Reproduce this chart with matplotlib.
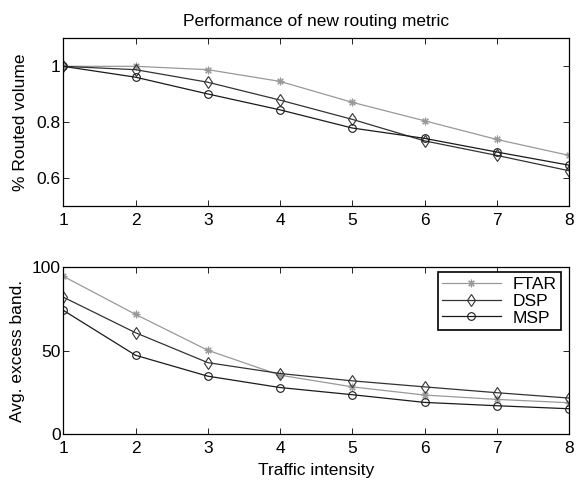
import numpy as np
import matplotlib
matplotlib.use('Agg')
from matplotlib import pyplot as plt

plt.rcParams['font.family'] = ['Liberation Sans', 'DejaVu Sans']
plt.rcParams['font.size'] = 12.5

# traffic intensity
x = [1, 2, 3, 4, 5, 6, 7, 8]

# % routed volume
ftar_vol = [1.0, 1.0, 0.988, 0.946, 0.871, 0.805, 0.738, 0.681]
dsp_vol = [1.0, 0.988, 0.943, 0.879, 0.810, 0.733, 0.681, 0.626]
msp_vol = [1.0, 0.961, 0.901, 0.844, 0.779, 0.742, 0.693, 0.646]

# avg. excess bandwidth
ftar_bw = [94.6, 71.8, 50.3, 35.4, 28.4, 23.5, 20.9, 18.9]
dsp_bw = [82.1, 60.8, 42.9, 36.4, 32.0, 28.4, 24.9, 21.7]
msp_bw = [74.2, 47.3, 34.8, 28.0, 23.7, 19.1, 17.1, 15.3]

names = ['FTAR', 'DSP', 'MSP']
markers = [(8, 2, 0), 'd', 'o']
sizes = [5.5, 6, 5.5]
colors = ['#999999', '#333333', '#1a1a1a']

fig = plt.figure(figsize=(5.82, 4.8), dpi=100)
ax1 = fig.add_axes([0.1088, 0.571, 0.8689, 0.349])
ax2 = fig.add_axes([0.1088, 0.0952, 0.8689, 0.348])

for ax, series in [(ax1, [ftar_vol, dsp_vol, msp_vol]), (ax2, [ftar_bw, dsp_bw, msp_bw])]:
    for ys, n, m, ms, c in zip(series, names, markers, sizes, colors):
        ax.plot(x, ys, color=c, marker=m, markersize=ms,
                markerfacecolor='none', markeredgecolor=c, markeredgewidth=0.8,
                linewidth=0.9, label=n)
    ax.set_xlim(1, 8)
    ax.set_xticks(x)
    ax.tick_params(direction='in', top=True, right=True, length=4, width=0.6)
    ax.tick_params(axis='x', pad=5)
    ax.tick_params(axis='y', pad=2)
    for s in ax.spines.values():
        s.set_linewidth(0.9)

ax1.set_ylim(0.5, 1.1)
ax1.set_yticks([0.6, 0.8, 1.0])
ax1.set_yticklabels(['0.6', '0.8', '1'])
ax1.set_ylabel('% Routed volume', labelpad=6)
ax1.set_title('Performance of new routing metric', fontsize=12.5, pad=9)

ax2.set_ylim(0, 100)
ax2.set_yticks([0, 50, 100])
ax2.set_ylabel('Avg. excess band.', labelpad=5)
ax2.set_xlabel('Traffic intensity', labelpad=5)
leg = ax2.legend(loc='upper right', bbox_to_anchor=(0.985, 0.97), fancybox=False,
                 framealpha=1, edgecolor='black', borderpad=0.25, labelspacing=0.1,
                 handlelength=3.4, handletextpad=0.7, borderaxespad=0)
leg.get_frame().set_linewidth(1.2)

fig.savefig('out.png', dpi=100)
